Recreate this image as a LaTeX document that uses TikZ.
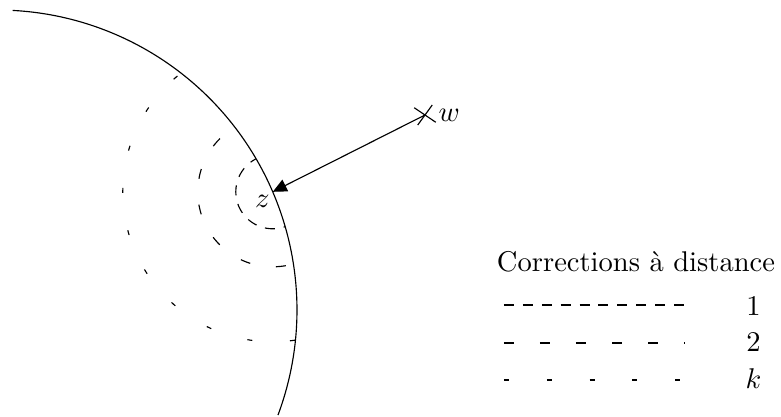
\documentclass[tikz,border=0pt]{standalone}
\usetikzlibrary{arrows.meta}
\begin{document}
\begin{tikzpicture}[x=0.35026pt,y=0.35026pt,
  dashone/.style={dash pattern=on 3.503pt off 3.117pt},
  dashtwo/.style={dash pattern=on 3.503pt off 9.107pt},
  dashk/.style={dash pattern=on 1.751pt off 13.24pt},
  lbl/.style={inner sep=0pt, anchor=base}]
\useasboundingbox (0,0) rectangle (781,416);
\coordinate (O) at (-3,106);
\coordinate (z) at (272.8,224.2);
\coordinate (w) at (425,301);
% big circle arc
\draw (O) ++(87:300) arc[start angle=87, end angle=-20.5, radius=300];
% dashed circles around z, inside the big circle
\begin{scope}
\clip (O) circle[radius=300];
\draw[dashone, dash phase=1.3pt] (z) circle[radius=37];
\draw[dashtwo, dash phase=1.23pt] (z) circle[radius=75];
\draw[dashk, dash phase=1.2pt] (z) circle[radius=150];
\end{scope}
% arrow and cross
\draw[-{Triangle[length=4.9pt,width=4.5pt]}] (w) -- (z);
\draw ([shift={(146:13)}]w) -- ([shift={(-34:13)}]w);
\draw ([shift={(54:12.4)}]w) -- ([shift={(234:12.4)}]w);
\node[inner sep=0pt, anchor=west] (wl) at (438,301) {$w$};
\node[inner sep=0pt] (zl) at (262.5,215) {$z$};
% legend
\node[lbl] (title) at (636,144.3) {Corrections à distance};
\coordinate (a1) at (504,111); \coordinate (b1) at (685,111);
\coordinate (a2) at (504,73);  \coordinate (b2) at (685,73);
\coordinate (a3) at (504,36);  \coordinate (b3) at (685,36);
\draw[dashone] (a1) -- (b1);
\draw[dashtwo] (a2) -- (b2);
\draw[dashk] (a3) -- (b3);
\node[lbl] (n1) at (753.5,101) {$1$};
\node[lbl] (n2) at (753.5,64.3) {$2$};
\node[lbl] (nk) at (753.5,27.7) {$k$};
\end{tikzpicture}
\end{document}
